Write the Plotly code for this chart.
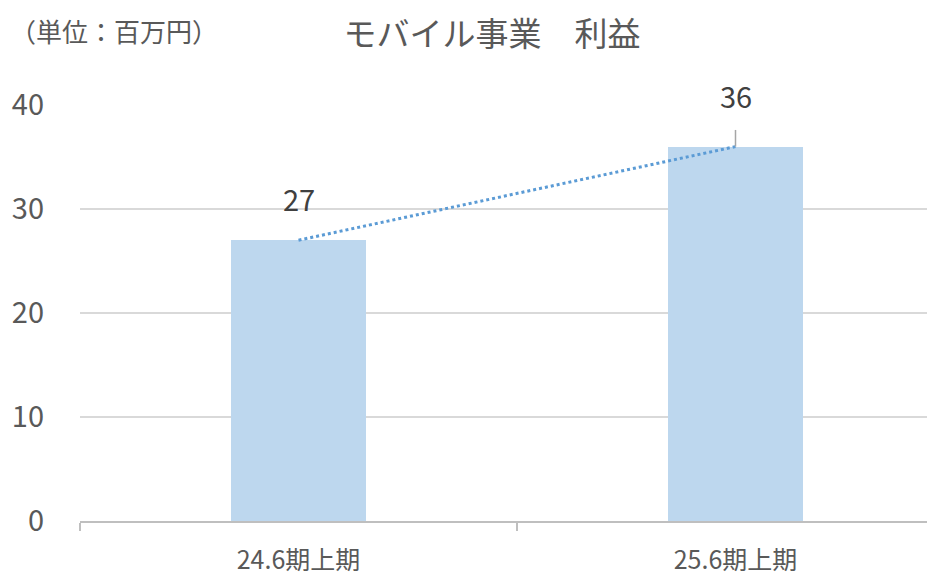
import plotly.graph_objects as go

categories = ["24.6期上期", "25.6期上期"]
profits = [27, 36]
y_ticks = [0, 10, 20, 30, 40]
title_text = "モバイル事業　利益"
unit_text = "（単位：百万円）"

FONT = "Noto Sans CJK JP, Meiryo, sans-serif"
GRAY = "#595959"
Y_MAX = 40

# page body has an 8px margin, so the figure is drawn 8px smaller and offset
W, H = 927, 568
L, T, B, R = 72, 97, 55, 0
PW, PH = W - L - R, H - T - B

fig = go.Figure()
fig.add_trace(go.Bar(
    x=categories, y=profits, width=0.311,
    marker=dict(color="#BDD7EE", line=dict(width=0)),
    hoverinfo="skip", showlegend=False,
))
fig.add_trace(go.Scatter(
    x=categories, y=profits, mode="lines",
    line=dict(color="#5B9BD5", width=3, dash="dot"),
    hoverinfo="skip", showlegend=False, cliponaxis=False,
))

# data labels (second one moved up with a leader line, as in the original)
label_offsets = [4.1, 5.0]
for i, (c, v) in enumerate(zip(categories, profits)):
    fig.add_annotation(x=c, y=(v + label_offsets[i]) / Y_MAX, text=str(v), showarrow=False,
                       font=dict(family=FONT, size=29, color="#404040"),
                       xref="x", yref="paper", yanchor="middle")
fig.add_shape(type="line", xref="x", yref="y", x0=1, x1=1, y0=profits[1], y1=profits[1] + 1.6,
              line=dict(color="#A6A6A6", width=1.5))

fig.update_layout(
    width=W, height=H,
    margin=dict(l=L, r=R, t=T, b=B, autoexpand=False),
    paper_bgcolor="white", plot_bgcolor="white",
    bargap=0,
    title=dict(text=title_text, x=484 / W, xanchor="center", xref="container",
               y=1 - 26 / H, yanchor="middle", yref="container",
               font=dict(family=FONT, size=33, color=GRAY)),
    font=dict(family=FONT, color=GRAY),
)
fig.add_annotation(text=unit_text, xref="paper", yref="paper", x=(0 - L) / PW, xanchor="left",
                   y=1 + (T - 23) / PH, yanchor="middle", showarrow=False,
                   font=dict(family=FONT, size=26, color=GRAY))

fig.update_xaxes(
    type="category", range=[-0.5, -0.5 + PW / 437], automargin=False,
    showgrid=False, showline=True, linecolor="#BFBFBF", linewidth=1.5,
    ticks="outside", tickson="boundaries", ticklen=8, tickcolor="#BFBFBF", tickwidth=1.5,
    tickfont=dict(family=FONT, size=25, color=GRAY), ticklabelstandoff=16,
)
fig.update_yaxes(
    range=[0, Y_MAX], tickvals=y_ticks, automargin=False,
    showgrid=True, gridcolor="#D9D9D9", gridwidth=1.5,
    zeroline=False, showline=False, ticks="",
    tickfont=dict(family=FONT, size=29, color=GRAY), ticklabelstandoff=35,
)

fig.write_html("out.html")
